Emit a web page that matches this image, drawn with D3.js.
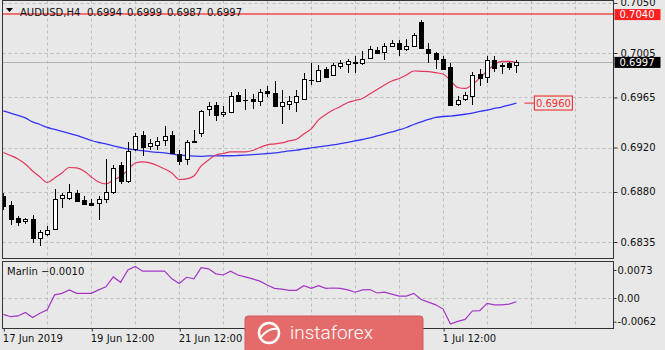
<!DOCTYPE html>
<html><head><meta charset="utf-8">
<script src="https://cdn.jsdelivr.net/npm/d3@7"></script>
<style>
body{margin:0;background:#e8e8e8;}
svg{display:block;}
text{font-family:"DejaVu Sans",sans-serif;font-size:10px;fill:#111;}
</style>
</head><body>
<svg id="c" width="665" height="350"></svg>
<script>
const symbol = "AUDUSD,H4";
const openP = [0.6876,0.6868,0.6857,0.6854,0.6856,0.6839,0.6842,0.6847,0.6874,0.6875,
0.6879,0.6873,0.6870,0.6870,0.6874,0.6880,0.6904,0.6890,0.6918,0.6931,
0.6921,0.6922,0.6926,0.6931,0.6914,0.6910,0.6926,0.6933,0.6954,0.6958,
0.6950,0.6952,0.6967,0.6963,0.6964,0.6962,0.6971,0.6969,0.6957,0.6959,
0.6961,0.6964,0.6981,0.6980,0.6991,0.6985,0.6993,0.6995,0.6997,0.6996,
0.7001,0.7008,0.7006,0.7011,0.7014,0.7008,0.7011,0.7033,0.7009,0.7005,
0.7000,0.6992,0.6959,0.6963,0.6966,0.6986,0.6984,0.6999,0.6994,0.6996,
0.6994];
const highP = [0.6879,0.6872,0.6858,0.6857,0.6859,0.6846,0.6849,0.6883,0.6879,0.6887,
0.6882,0.6876,0.6874,0.6876,0.6910,0.6904,0.6907,0.6925,0.6933,0.6935,
0.6928,0.6929,0.6939,0.6935,0.6918,0.6927,0.6936,0.6954,0.6961,0.6961,
0.6957,0.6970,0.6970,0.6973,0.6968,0.6973,0.6975,0.6980,0.6972,0.6966,
0.6972,0.6987,0.6996,0.6994,0.6992,0.6996,0.6999,0.7000,0.7002,0.7007,
0.7011,0.7010,0.7014,0.7017,0.7017,0.7018,0.7023,0.7035,0.7014,0.7006,
0.7002,0.6996,0.6966,0.6970,0.6988,0.6991,0.7002,0.7002,0.6996,0.6997,
0.6999];
const lowP = [0.6864,0.6850,0.6849,0.6851,0.6834,0.6831,0.6840,0.6846,0.6866,0.6873,
0.6871,0.6868,0.6867,0.6855,0.6870,0.6878,0.6887,0.6888,0.6917,0.6912,
0.6918,0.6918,0.6921,0.6914,0.6904,0.6904,0.6924,0.6929,0.6948,0.6944,
0.6947,0.6951,0.6961,0.6954,0.6955,0.6957,0.6965,0.6956,0.6941,0.6954,
0.6952,0.6963,0.6976,0.6979,0.6983,0.6984,0.6991,0.6987,0.6987,0.6994,
0.7000,0.7004,0.6999,0.7010,0.7002,0.7007,0.7010,0.7009,0.6996,0.6991,
0.6990,0.6957,0.6957,0.6962,0.6958,0.6975,0.6978,0.6988,0.6986,0.6990,
0.6987];
const closeP = [0.6867,0.6855,0.6853,0.6856,0.6839,0.6844,0.6846,0.6874,0.6877,0.6880,
0.6872,0.6869,0.6868,0.6874,0.6880,0.6902,0.6890,0.6917,0.6930,0.6920,
0.6924,0.6926,0.6930,0.6915,0.6908,0.6925,0.6925,0.6953,0.6957,0.6949,
0.6952,0.6966,0.6962,0.6963,0.6962,0.6970,0.6969,0.6957,0.6961,0.6962,
0.6966,0.6982,0.6981,0.6990,0.6984,0.6994,0.6996,0.6998,0.6996,0.7000,
0.7009,0.7005,0.7011,0.7014,0.7009,0.7011,0.7021,0.7010,0.7005,0.7000,
0.6991,0.6958,0.6963,0.6967,0.6985,0.6982,0.6999,0.6992,0.6993,0.6992,
0.6997];
const maFast = [0.69155,0.69128,0.69097,0.69052,0.68989,0.68935,0.68885,0.68926,0.68971,0.69020,
0.69016,0.68989,0.68935,0.68890,0.68872,0.68908,0.68939,0.68998,0.69061,0.69070,
0.69061,0.69038,0.69007,0.68971,0.68912,0.68917,0.68944,0.69034,0.69088,0.69133,
0.69146,0.69160,0.69160,0.69161,0.69173,0.69200,0.69223,0.69232,0.69241,0.69259,
0.69274,0.69322,0.69367,0.69448,0.69497,0.69537,0.69569,0.69605,0.69623,0.69641,
0.69681,0.69722,0.69762,0.69798,0.69821,0.69852,0.69888,0.69885,0.69883,0.69873,
0.69861,0.69803,0.69740,0.69731,0.69767,0.69825,0.69888,0.69947,0.69975,0.69974,
0.69963];
const maSlow = [0.69530,0.69510,0.69488,0.69466,0.69430,0.69407,0.69380,0.69362,0.69344,0.69326,
0.69308,0.69286,0.69263,0.69245,0.69232,0.69214,0.69200,0.69187,0.69178,0.69171,
0.69162,0.69157,0.69151,0.69142,0.69133,0.69126,0.69122,0.69121,0.69124,0.69125,
0.69126,0.69126,0.69128,0.69131,0.69135,0.69140,0.69146,0.69151,0.69160,0.69169,
0.69176,0.69187,0.69196,0.69205,0.69214,0.69223,0.69234,0.69247,0.69259,0.69272,
0.69286,0.69304,0.69322,0.69340,0.69358,0.69380,0.69407,0.69430,0.69452,0.69470,
0.69479,0.69483,0.69490,0.69499,0.69510,0.69524,0.69537,0.69551,0.69564,0.69582,
0.69600];
const marlin = [-0.0043,-0.0049,-0.0047,-0.0038,-0.0051,-0.0040,-0.0031,0.0008,0.0012,0.0021,
0.0012,0.0012,0.0012,0.0021,0.0029,0.0055,0.0041,0.0073,0.0082,0.0070,
0.0070,0.0070,0.0070,0.0050,0.0038,0.0054,0.0050,0.0079,0.0076,0.0063,
0.0060,0.0070,0.0060,0.0055,0.0050,0.0044,0.0034,0.0025,0.0023,0.0020,
0.0020,0.0032,0.0025,0.0032,0.0025,0.0026,0.0025,0.0021,0.0015,0.0021,
0.0022,0.0013,0.0015,0.0010,0.0005,0.0005,0.0012,-0.0004,-0.0011,-0.0018,
-0.0029,-0.0068,-0.0061,-0.0056,-0.0034,-0.0033,-0.0014,-0.0018,-0.0018,-0.0016,
-0.0010];
const priceTicks = [0.7050,0.7005,0.6965,0.6920,0.6880,0.6835];
const marlinTicks = [0.0073,0.0,-0.0062];
const marlinTickLabels = ["0.0073","0.00","-0.0062"];
const timeTickIdx = [0,12,24,60];
const timeTickLabels = ["17 Jun 2019","19 Jun 12:00","21 Jun 12:00","1 Jul 12:00"];
const levelPrice = 0.7040;

const svg = d3.select("#c");
const L = 2.5, R = 613.5, mainTop = 0.5, mainBot = 258.5, indTop = 261.5, indBot = 328.5;
const n = closeP.length;
const x = d3.scaleLinear().domain([0, 70]).range([3.3, 516.4]);
const yP = d3.scaleLinear().domain([0.6835, 0.7005]).range([242, 53]);
const yM = d3.scaleLinear().domain([-0.0062, 0.0073]).range([321.7, 270]);
const px = v => Math.round(v) + 0.5;

const defs = svg.append("defs");
defs.append("clipPath").attr("id","cm").append("rect").attr("x",L).attr("y",mainTop).attr("width",R-L).attr("height",mainBot-mainTop);
defs.append("clipPath").attr("id","ci").append("rect").attr("x",L).attr("y",indTop).attr("width",R-L).attr("height",indBot-indTop);

const gridC = "#bdbdbd";
const vIdx = d3.range(6, 84, 6);
[[mainTop,mainBot],[indTop,indBot]].forEach(([a,b])=>{
  svg.append("g").selectAll("line").data(vIdx.filter(i=>x(i)<R-2)).join("line")
    .attr("x1",d=>px(x(d))).attr("x2",d=>px(x(d))).attr("y1",a).attr("y2",b)
    .attr("stroke",gridC).attr("stroke-dasharray","3,3");
});
svg.append("g").selectAll("line").data(priceTicks.filter(t=>yP(t)>mainTop+2)).join("line")
  .attr("x1",L).attr("x2",R).attr("y1",d=>px(yP(d))).attr("y2",d=>px(yP(d)))
  .attr("stroke",gridC).attr("stroke-dasharray","3,3");
svg.append("line").attr("x1",L).attr("x2",R).attr("y1",px(yM(0))).attr("y2",px(yM(0)))
  .attr("stroke",gridC).attr("stroke-dasharray","3,3");

const gm = svg.append("g").attr("clip-path","url(#cm)");
gm.append("line").attr("x1",L).attr("x2",R).attr("y1",yP(levelPrice)).attr("y2",yP(levelPrice))
  .attr("stroke","#f24a4a").attr("stroke-width",1.5);
const last = n-1;
gm.append("line").attr("x1",L).attr("x2",R).attr("y1",px(yP(closeP[last]))).attr("y2",px(yP(closeP[last])))
  .attr("stroke","#b4b4b4");

const lineP = d3.line().x((d,i)=>x(i)).y(d=>yP(d)).curve(d3.curveMonotoneX);
gm.append("path").attr("d",lineP(maSlow)).attr("fill","none").attr("stroke","#3434f4").attr("stroke-width",1.3);
gm.append("path").attr("d",lineP(maFast)).attr("fill","none").attr("stroke","#e5375c").attr("stroke-width",1.2);

const bars = d3.range(n);
gm.append("g").selectAll("line").data(bars).join("line")
  .attr("x1",i=>px(x(i))).attr("x2",i=>px(x(i)))
  .attr("y1",i=>Math.round(yP(highP[i]))).attr("y2",i=>Math.round(yP(lowP[i])))
  .attr("stroke","#000");
gm.append("g").selectAll("rect").data(bars).join("rect")
  .attr("x",i=>px(x(i))-2).attr("width",4)
  .attr("y",i=>px(yP(Math.max(openP[i],closeP[i]))))
  .attr("height",i=>Math.max(0.01,Math.round(Math.abs(yP(openP[i])-yP(closeP[i])))))
  .attr("fill",i=>closeP[i]>=openP[i]?"#fff":"#000").attr("stroke","#000");

const ly = yP(maSlow[last]);
gm.append("line").attr("x1",x(last)+8).attr("x2",x(last)+18).attr("y1",ly).attr("y2",ly).attr("stroke","#f05050").attr("stroke-width",1.2);
gm.append("rect").attr("x",x(last)+18).attr("y",ly-7).attr("width",38).attr("height",14)
  .attr("fill","#e8e8e8").attr("stroke","#f03c3c").attr("stroke-width",1.2);
gm.append("text").attr("x",x(last)+37).attr("y",ly+4).attr("text-anchor","middle")
  .style("fill","#f03030").text(d3.format(".4f")(maSlow[last]));

const gi = svg.append("g").attr("clip-path","url(#ci)");
gi.append("path").attr("d",d3.line().x((d,i)=>x(i)).y(d=>yM(d))(marlin))
  .attr("fill","none").attr("stroke","#a336c6").attr("stroke-width",1.2);

svg.append("rect").attr("x",L).attr("y",mainTop).attr("width",R-L).attr("height",mainBot-mainTop).attr("fill","none").attr("stroke","#333");
svg.append("rect").attr("x",L).attr("y",indTop).attr("width",R-L).attr("height",indBot-indTop).attr("fill","none").attr("stroke","#333");

const ax = svg.append("g").attr("transform",`translate(${R},0)`)
  .call(d3.axisRight(yP).tickValues(priceTicks).tickSize(4).tickPadding(3).tickFormat(d3.format(".4f")));
ax.select(".domain").remove();
ax.selectAll("text").attr("dy","0.3em");
const axm = svg.append("g").attr("transform",`translate(${R},0)`)
  .call(d3.axisRight(yM).tickValues(marlinTicks).tickSize(3).tickPadding(1).tickFormat((d,i)=>marlinTickLabels[i]));
axm.select(".domain").remove();
const axb = svg.append("g").attr("transform",`translate(0,${indBot})`)
  .call(d3.axisBottom(x).tickValues(timeTickIdx).tickSize(3).tickFormat((d,i)=>timeTickLabels[i]));
axb.select(".domain").remove();
axb.selectAll(".tick line").attr("transform","translate(0.5,0)");
axb.selectAll("text").attr("text-anchor","start").attr("y",13).attr("dy",0).attr("x",-1);
svg.selectAll(".tick text").style("font-family","DejaVu Sans").style("font-size","10px").style("fill","#111");
svg.selectAll(".tick line").attr("stroke","#333");

function axBox(p, fill, txt){
  const yy = yP(p);
  svg.append("rect").attr("x",R+1).attr("y",yy-5).attr("width",46).attr("height",11).attr("fill",fill);
  svg.append("text").attr("x",R+6).attr("y",yy+4).style("fill","#fff").text(txt);
}
axBox(levelPrice,"#ff2020",d3.format(".4f")(levelPrice));
axBox(closeP[last],"#000",d3.format(".4f")(closeP[last]));

svg.append("path").attr("d","M6,8 L13,8 L9.5,12 Z").attr("fill","#000");
svg.append("text").attr("x",20).attr("y",16).text(symbol);
[openP[last],highP[last],lowP[last],closeP[last]].forEach((v,k)=>{
  svg.append("text").attr("x",87+k*40).attr("y",16).text(d3.format(".4f")(v));
});
svg.append("text").attr("x",7).attr("y",275).text("Marlin " + d3.format(".4f")(marlin[last]));

const lg = svg.append("g").attr("transform","translate(245,316)");
lg.append("rect").attr("x",0).attr("y",0).attr("width",178).attr("height",40).attr("rx",3)
  .attr("fill","#e56b6b").attr("stroke","#d05c5c");
lg.append("circle").attr("cx",24).attr("cy",17).attr("r",10).attr("fill","none").attr("stroke","#fff").attr("stroke-width",2.5);
lg.append("path").attr("d","M16,21 Q24,11 33,13").attr("fill","none").attr("stroke","#fff").attr("stroke-width",2);
lg.append("text").attr("x",45).attr("y",23).style("font-family","Roboto").style("font-size","19px")
  .style("font-weight","300").style("fill","#fff").text("instaforex");
</script>
</body></html>
